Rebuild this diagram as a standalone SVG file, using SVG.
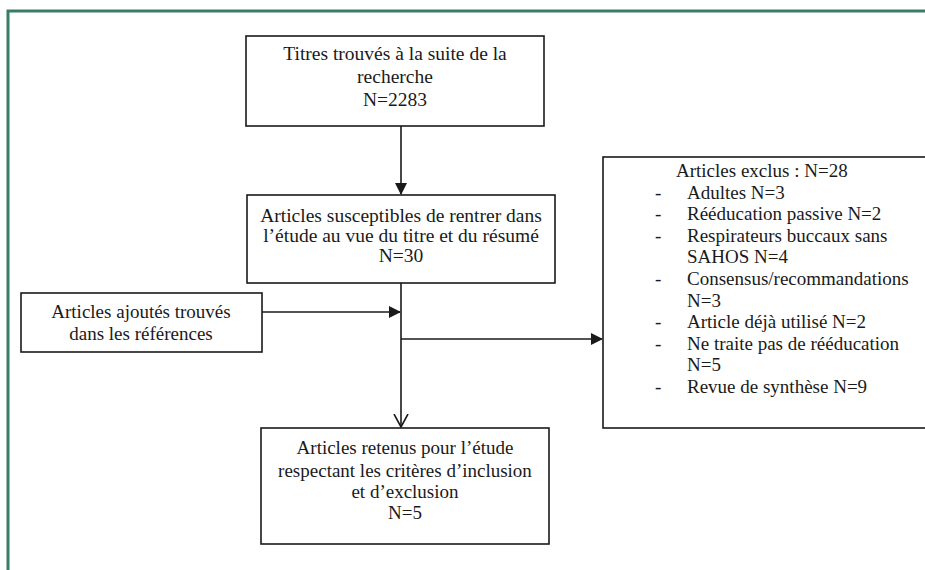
<svg xmlns="http://www.w3.org/2000/svg" width="925" height="570" viewBox="0 0 925 570">
<style>
.frame{fill:none;stroke:#3a7d66;stroke-width:3}
.box{fill:#fff;stroke:#1a1a1a;stroke-width:1.6}
.t{font-family:"Liberation Serif","Times New Roman",serif;font-size:19px;fill:#1a1a1a}
.l{font-size:19.5px}
.c{text-anchor:middle}
.line{fill:none;stroke:#1a1a1a;stroke-width:1.6}
</style>
<defs>
<marker id="fill" markerWidth="12" markerHeight="12" refX="11" refY="6" orient="auto" markerUnits="userSpaceOnUse">
<path d="M0,0 L12,6 L0,12 Z" fill="#1a1a1a"/>
</marker>
<marker id="open" markerWidth="14" markerHeight="16" refX="13" refY="8" orient="auto" markerUnits="userSpaceOnUse">
<path d="M0,1 L13,8 L0,15" fill="none" stroke="#1a1a1a" stroke-width="1.6"/>
</marker>
</defs>
<rect width="925" height="570" fill="#fff"/>
<path class="frame" d="M8,575 L8,11 L930,11"/>

<g id="connectors">
<line class="line" x1="401" y1="126" x2="401" y2="194" marker-end="url(#fill)"/>
<line class="line" x1="262" y1="312" x2="400" y2="312" marker-end="url(#fill)"/>
<line class="line" x1="401" y1="283" x2="401" y2="427" marker-end="url(#open)"/>
<line class="line" x1="401" y1="339" x2="602" y2="339" marker-end="url(#fill)"/>
</g>

<g id="titres">
<rect class="box" x="246" y="36" width="298" height="90"/>
<text class="t l c" x="395" y="60">Titres trouvés à la suite de la</text>
<text class="t l c" x="395" y="83">recherche</text>
<text class="t l c" x="395" y="106">N=2283</text>
</g>

<g id="susceptibles">
<rect class="box" x="247" y="195" width="308" height="88"/>
<text class="t l c" x="401" y="222">Articles susceptibles de rentrer dans</text>
<text class="t l c" x="401" y="242">l’étude  au vue du titre et du résumé</text>
<text class="t l c" x="401" y="262">N=30</text>
</g>

<g id="ajoutes">
<rect class="box" x="21" y="293" width="241" height="59"/>
<text class="t c" x="141" y="318">Articles ajoutés trouvés</text>
<text class="t c" x="141" y="340">dans les références</text>
</g>

<g id="exclus">
<rect class="box" x="603" y="157" width="330" height="271"/>
<text class="t" x="676" y="177">Articles exclus : N=28</text>
<g class="t">
<text x="655" y="199">-</text><text x="687" y="199">Adultes N=3</text>
<text x="655" y="220">-</text><text x="687" y="220">Rééducation passive N=2</text>
<text x="655" y="242">-</text><text x="687" y="242">Respirateurs buccaux sans</text>
<text x="687" y="263">SAHOS N=4</text>
<text x="655" y="285">-</text><text x="687" y="285">Consensus/recommandations</text>
<text x="687" y="307">N=3</text>
<text x="655" y="328">-</text><text x="687" y="328">Article déjà utilisé N=2</text>
<text x="655" y="350">-</text><text x="687" y="350">Ne traite pas de rééducation</text>
<text x="687" y="371">N=5</text>
<text x="655" y="393">-</text><text x="687" y="393">Revue de synthèse N=9</text>
</g>
</g>

<g id="retenus">
<rect class="box" x="261" y="428" width="288" height="116"/>
<text class="t c" x="405" y="454">Articles retenus pour l’étude</text>
<text class="t c" x="405" y="477">respectant les critères d’inclusion</text>
<text class="t c" x="405" y="498">et d’exclusion</text>
<text class="t c" x="405" y="519">N=5</text>
</g>
</svg>
